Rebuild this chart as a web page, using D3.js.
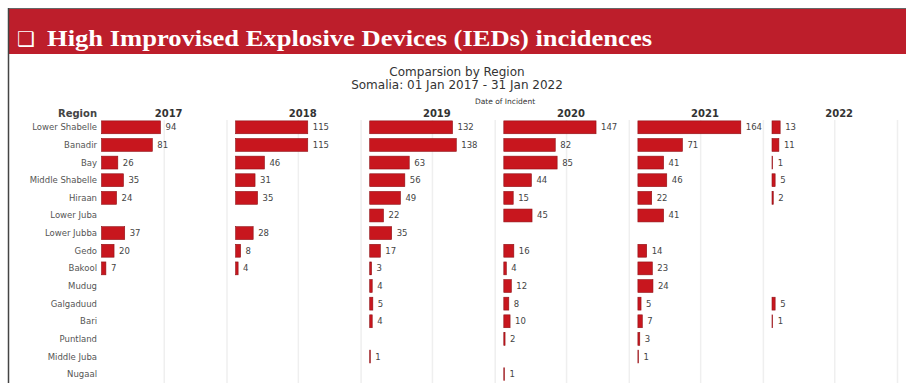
<!DOCTYPE html>
<html>
<head>
<meta charset="utf-8">
<script src="https://cdn.jsdelivr.net/npm/d3@7"></script>
<style>
    body { margin: 0; background: #fff; }
    #chart { width: 906px; height: 383px; }
</style>
</head>
<body>
<div id="chart"></div>
<script>
// regions (rows) and years (panels)
let regions = ["Lower Shabelle", "Banadir", "Bay", "Middle Shabelle", "Hiraan", "Lower Juba",
    "Lower Jubba", "Gedo", "Bakool", "Mudug", "Galgaduud", "Bari", "Puntland", "Middle Juba", "Nugaal"];
let years = ["2017", "2018", "2019", "2020", "2021", "2022"];

// incidents per region, one array per year (null = no entry)
let v2017 = [94, 81, 26, 35, 24, null, 37, 20, 7, null, null, null, null, null, null];
let v2018 = [115, 115, 46, 31, 35, null, 28, 8, 4, null, null, null, null, null, null];
let v2019 = [132, 138, 63, 56, 49, 22, 35, 17, 3, 4, 5, 4, null, 1, null];
let v2020 = [147, 82, 85, 44, 15, 45, null, 16, 4, 12, 8, 10, 2, null, 1];
let v2021 = [164, 71, 41, 46, 22, 41, null, 14, 23, 24, 5, 7, 3, 1, null];
let v2022 = [13, 11, 1, 5, 2, null, null, null, null, null, 5, 1, null, null, null];
let seriesByYear = [v2017, v2018, v2019, v2020, v2021, v2022];

let gridTicks = [100, 200];

let W = 906, H = 383;

let svg = d3.select("#chart").append("svg")
    .attr("width", W)
    .attr("height", H);

// frame + red banner
svg.append("rect")
    .attr("x", 8).attr("y", 9)
    .attr("width", W - 8).attr("height", 45)
    .attr("fill", "#bd1e2b");
svg.append("line")
    .attr("x1", 8).attr("x2", W).attr("y1", 8.5).attr("y2", 8.5)
    .attr("stroke", "#666").attr("stroke-width", 1.2);
svg.append("line")
    .attr("x1", 8.5).attr("x2", 8.5).attr("y1", 8).attr("y2", H)
    .attr("stroke", "#444").attr("stroke-width", 1.5);

svg.append("text")
    .attr("x", 17).attr("y", 46)
    .attr("font-family", "DejaVu Sans")
    .attr("font-size", 20)
    .attr("fill", "#fff")
    .text("\u2751");
svg.append("text")
    .attr("x", 47).attr("y", 46)
    .attr("font-family", "Liberation Serif")
    .attr("font-weight", "bold")
    .attr("font-size", 24)
    .attr("fill", "#fff")
    .attr("textLength", 605)
    .attr("lengthAdjust", "spacingAndGlyphs")
    .text("High Improvised Explosive Devices (IEDs) incidences");

// chart titles
svg.append("text")
    .attr("x", 457).attr("y", 76)
    .attr("text-anchor", "middle")
    .attr("font-family", "DejaVu Sans").attr("font-size", 12)
    .attr("fill", "#333")
    .text("Comparsion by Region");
svg.append("text")
    .attr("x", 457).attr("y", 89)
    .attr("text-anchor", "middle")
    .attr("font-family", "DejaVu Sans").attr("font-size", 12)
    .attr("fill", "#333")
    .text("Somalia: 01 Jan 2017 - 31 Jan 2022");
svg.append("text")
    .attr("x", 505).attr("y", 104)
    .attr("text-anchor", "middle")
    .attr("font-family", "DejaVu Sans").attr("font-size", 7.5)
    .attr("fill", "#333")
    .text("Date of Incident");

// scales
let panelStart = 101.5, panelStep = 134.1;
let x = d3.scaleLinear().domain([0, 200]).range([0, 125.5]);
let y = d3.scaleBand()
    .domain(regions)
    .range([118.5, 383])
    .paddingInner(0.27)
    .paddingOuter(0.135);

// header
svg.append("text")
    .attr("x", 97).attr("y", 117)
    .attr("text-anchor", "end")
    .attr("font-family", "DejaVu Sans").attr("font-weight", "bold").attr("font-size", 10)
    .attr("fill", "#444")
    .text("Region");

// region labels
svg.append("g")
    .selectAll("text")
    .data(regions)
    .enter().append("text")
    .attr("x", 97)
    .attr("y", d => y(d) + y.bandwidth() / 2)
    .attr("dy", "0.35em")
    .attr("text-anchor", "end")
    .attr("font-family", "DejaVu Sans").attr("font-size", 8.5)
    .attr("fill", "#555")
    .text(d => d);

// one panel per year
years.forEach((yr, i) => {
    let g = svg.append("g")
        .attr("transform", `translate(${panelStart + i * panelStep},0)`);

    // faint grid
    g.selectAll(".grid")
        .data(gridTicks)
        .enter().append("line")
        .attr("class", "grid")
        .attr("x1", d => x(d)).attr("x2", d => x(d))
        .attr("y1", 120).attr("y2", H)
        .attr("stroke", "#efefef").attr("stroke-width", 1.5);

    g.append("text")
        .attr("x", x(107))
        .attr("y", 117)
        .attr("text-anchor", "middle")
        .attr("font-family", "DejaVu Sans").attr("font-weight", "bold").attr("font-size", 10)
        .attr("fill", "#333")
        .text(yr);

    let rows = regions.map((r, j) => ({region: r, value: seriesByYear[i][j]}))
        .filter(d => d.value !== null);

    g.selectAll(".bar")
        .data(rows)
        .enter().append("rect")
        .attr("class", "bar")
        .attr("x", x(0))
        .attr("y", d => y(d.region))
        .attr("width", d => x(d.value) - x(0))
        .attr("height", y.bandwidth())
        .attr("fill", "#c8161e")
        .attr("stroke", "#8f1116")
        .attr("stroke-width", 0.6);

    g.selectAll(".val")
        .data(rows)
        .enter().append("text")
        .attr("class", "val")
        .attr("x", d => x(d.value) + 5)
        .attr("y", d => y(d.region) + y.bandwidth() / 2)
        .attr("dy", "0.35em")
        .attr("font-family", "DejaVu Sans").attr("font-size", 8.5)
        .attr("fill", "#444")
        .text(d => d.value);
});
</script>
</body>
</html>
